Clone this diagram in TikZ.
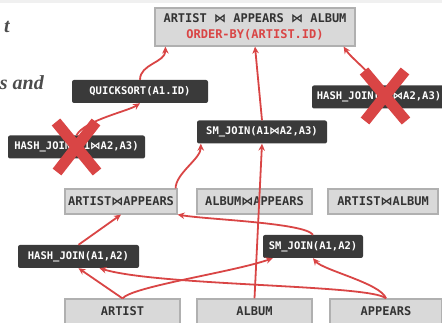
\documentclass[tikz,border=0pt]{standalone}
\usepackage{fontspec}
\setmonofont{DejaVu Sans Mono}
\newfontfamily\slidefont{Liberation Serif}
\newfontfamily\symfont{DejaVu Sans}
\usetikzlibrary{arrows.meta}
\definecolor{planred}{HTML}{D94545}
\definecolor{tblgray}{HTML}{D9D9D9}
\definecolor{tbledge}{HTML}{B0B0B0}
\definecolor{opdark}{HTML}{3A3A3A}
\newcommand{\jn}{{\symfont\char"22C8}}
\tikzset{
  tbl/.style={draw=tbledge, fill=tblgray, line width=1.2pt, text=black!80, font=\ttfamily\bfseries\fontsize{12}{15.5}\selectfont, minimum height=25pt, inner sep=0pt},
  op/.style={fill=opdark, rounded corners=2pt, text=white, font=\ttfamily\bfseries\fontsize{10.5}{12}\selectfont, minimum height=23pt, inner sep=0pt},
  frag/.style={anchor=base east, inner sep=0pt, text=black!70, font=\slidefont\bfseries\itshape\fontsize{20}{24}\selectfont},
  plan/.style={draw=planred, line width=1.8pt, -{Stealth[length=7pt,width=6.5pt]}},
  nope/.style={draw=planred, line width=11pt}
}

\begin{document}
\begin{tikzpicture}[x=1pt, y=-1pt]
    \useasboundingbox (0,0) rectangle (442,323);
    \fill[black!6] (0,0) rectangle (442,3);
    \node[frag] (fragT) at (10,33) {t};
    \node[frag] (fragS) at (44,90) {s and};

    \node[tbl, minimum width=200pt, minimum height=38pt, align=center] (goal) at (255,27) {ARTIST \jn{} APPEARS \jn{} ALBUM\\\textcolor{planred}{ORDER-BY(ARTIST.ID)}};
    \node[op, minimum width=136pt] (qs) at (140,91.5) {QUICKSORT(A1.ID)};
    \node[op, minimum width=137pt] (hjl) at (76.5,147) {HASH\_JOIN(A1\jn{}A2,A3)};
    \node[op, minimum width=134pt] (hjr) at (379,97) {HASH\_JOIN(A1\jn{}A2,A3)};
    \node[op, minimum width=130pt] (smj3) at (262,132) {SM\_JOIN(A1\jn{}A2,A3)};

    \node[tbl, minimum width=112pt] (ap) at (121,201.5) {ARTIST\jn{}APPEARS};
    \node[tbl, minimum width=115pt] (alap) at (254.5,201.5) {ALBUM\jn{}APPEARS};
    \node[tbl, minimum width=110pt] (aral) at (383,201.5) {ARTIST\jn{}ALBUM};

    \node[op, minimum width=121pt] (hj2) at (78.5,256.5) {HASH\_JOIN(A1,A2)};
    \node[op, minimum width=100pt] (smj2) at (313,246.5) {SM\_JOIN(A1,A2)};

    \node[tbl, minimum width=115pt] (artist) at (122.5,311.5) {ARTIST};
    \node[tbl, minimum width=115pt] (album) at (254.5,311.5) {ALBUM};
    \node[tbl, minimum width=112pt] (appears) at (386,311.5) {APPEARS};

    \draw[plan] (artist.north) -- (hj2.south);
    \draw[plan] (artist.north) .. controls +(10,-12) and +(-40,14) .. ([xshift=10pt]smj2.south west);
    \draw[plan] (appears.north) .. controls +(-5,-15) and +(10,12) .. (smj2.south);
    \draw[plan] (appears.north) .. controls +(-15,-14) and +(60,18) .. ([xshift=21pt]hj2.south);
    \draw[plan] (album.north) -- (smj3.south);
    \draw[plan] (hj2.north) -- (ap.south);
    \draw[plan] (smj2.north) .. controls +(-8,-12) and +(30,5) .. (ap.south east);
    \draw[plan] ([xshift=-2pt]ap.north east) .. controls +(0,-15) and +(0,15) .. ([xshift=4pt]smj3.south west);
    \draw[plan] (smj3.north) -- (goal.south);
    \draw[plan] (hjl.north) .. controls +(8,-15) and +(-12,8) .. (qs.south);
    \draw[plan] (qs.north) .. controls +(0,-16) and +(0,16) .. ([xshift=11pt]goal.south west);
    \draw[plan] ([xshift=-2pt]hjr.north) .. controls +(-5,-12) and +(8,12) .. ([xshift=-12pt]goal.south east);

    \draw[nope] (56,122) -- (97,172) (96,122) -- (57,172);
    \draw[nope] (364,71) -- (406,121) (405,71) -- (365,121);
\end{tikzpicture}
\end{document}
